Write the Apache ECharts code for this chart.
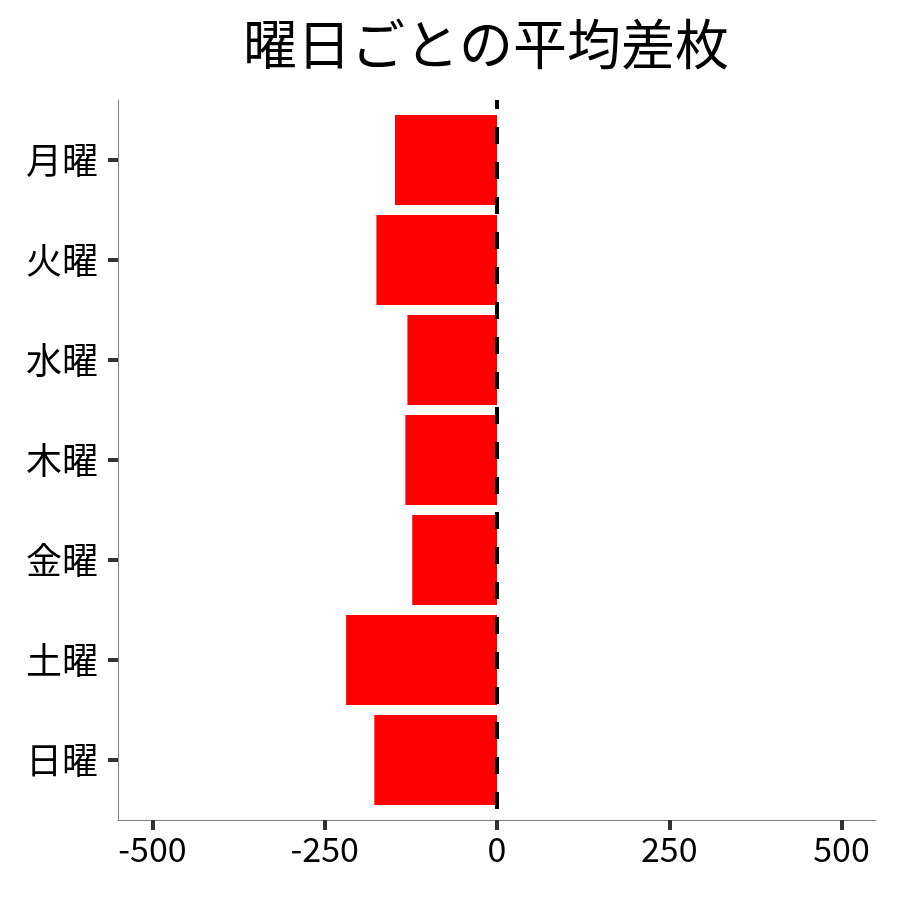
<!DOCTYPE html>
<html>
<head>
<meta charset="utf-8">
<script src="https://cdn.jsdelivr.net/npm/echarts@6/dist/echarts.min.js"></script>
<style>
html,body{margin:0;padding:0;background:#fff;}
#chart{width:900px;height:900px;}
</style>
</head>
<body>
<div id="chart"></div>
<script>
const titleText = '曜日ごとの平均差枚';
const days = ['月曜','火曜','水曜','木曜','金曜','土曜','日曜'];
const avgDiff = [-148, -175, -130, -133, -123, -219, -178];
const xTicks = [-500, -250, 0, 250, 500];
const dayPositions = [1, 2, 3, 4, 5, 6, 7];
const xMin = -550, xMax = 550;

const FONT = '"Noto Sans CJK JP", "Noto Sans", sans-serif';
const chart = echarts.init(document.getElementById('chart'));
chart.setOption({
  animation: false,
  backgroundColor: '#ffffff',
  title: {
    text: titleText,
    left: 481, top: 12, textAlign: 'center',
    textStyle: {fontFamily: FONT, fontSize: 54, fontWeight: 'normal', color: '#000'}
  },
  grid: [
    {left: 118, right: 24, top: 110, bottom: 90},
    {left: 118, right: 24, top: 100, bottom: 80}
  ],
  xAxis: [
    {
      type: 'value', gridIndex: 0, min: xMin, max: xMax, offset: 10,
      splitLine: {show: false},
      axisLine: {show: true, lineStyle: {color: '#808080', width: 1}},
      axisTick: {show: true, customValues: xTicks, length: 10, lineStyle: {color: '#333', width: 4}},
      axisLabel: {customValues: xTicks, margin: 12, fontFamily: FONT, fontSize: 34, color: '#000'}
    },
    {
      type: 'value', gridIndex: 1, min: xMin, max: xMax, show: false
    }
  ],
  yAxis: [
    {
      type: 'category', gridIndex: 0, data: days, inverse: true,
      axisLine: {show: false},
      axisTick: {show: false},
      axisLabel: {margin: 20, fontFamily: FONT, fontSize: 36, color: '#000'},
      splitLine: {show: false}
    },
    {
      type: 'value', gridIndex: 1, min: 0.4, max: 7.6, inverse: true,
      axisLine: {show: true, onZero: false, lineStyle: {color: '#808080', width: 1}},
      axisTick: {show: true, customValues: dayPositions, length: 10, lineStyle: {color: '#333', width: 4}},
      axisLabel: {show: false}, splitLine: {show: false}
    }
  ],
  series: [
    {
      type: 'bar', xAxisIndex: 0, yAxisIndex: 0,
      data: avgDiff, barWidth: 90,
      itemStyle: {color: '#ff0000'}
    },
    {
      type: 'line', xAxisIndex: 1, yAxisIndex: 1,
      data: [[0, 0.4], [0, 7.6]], symbol: 'none', z: 5,
      lineStyle: {color: '#000', width: 4, type: [17, 18], dashOffset: 8}
    }
  ]
});
</script>
</body>
</html>
